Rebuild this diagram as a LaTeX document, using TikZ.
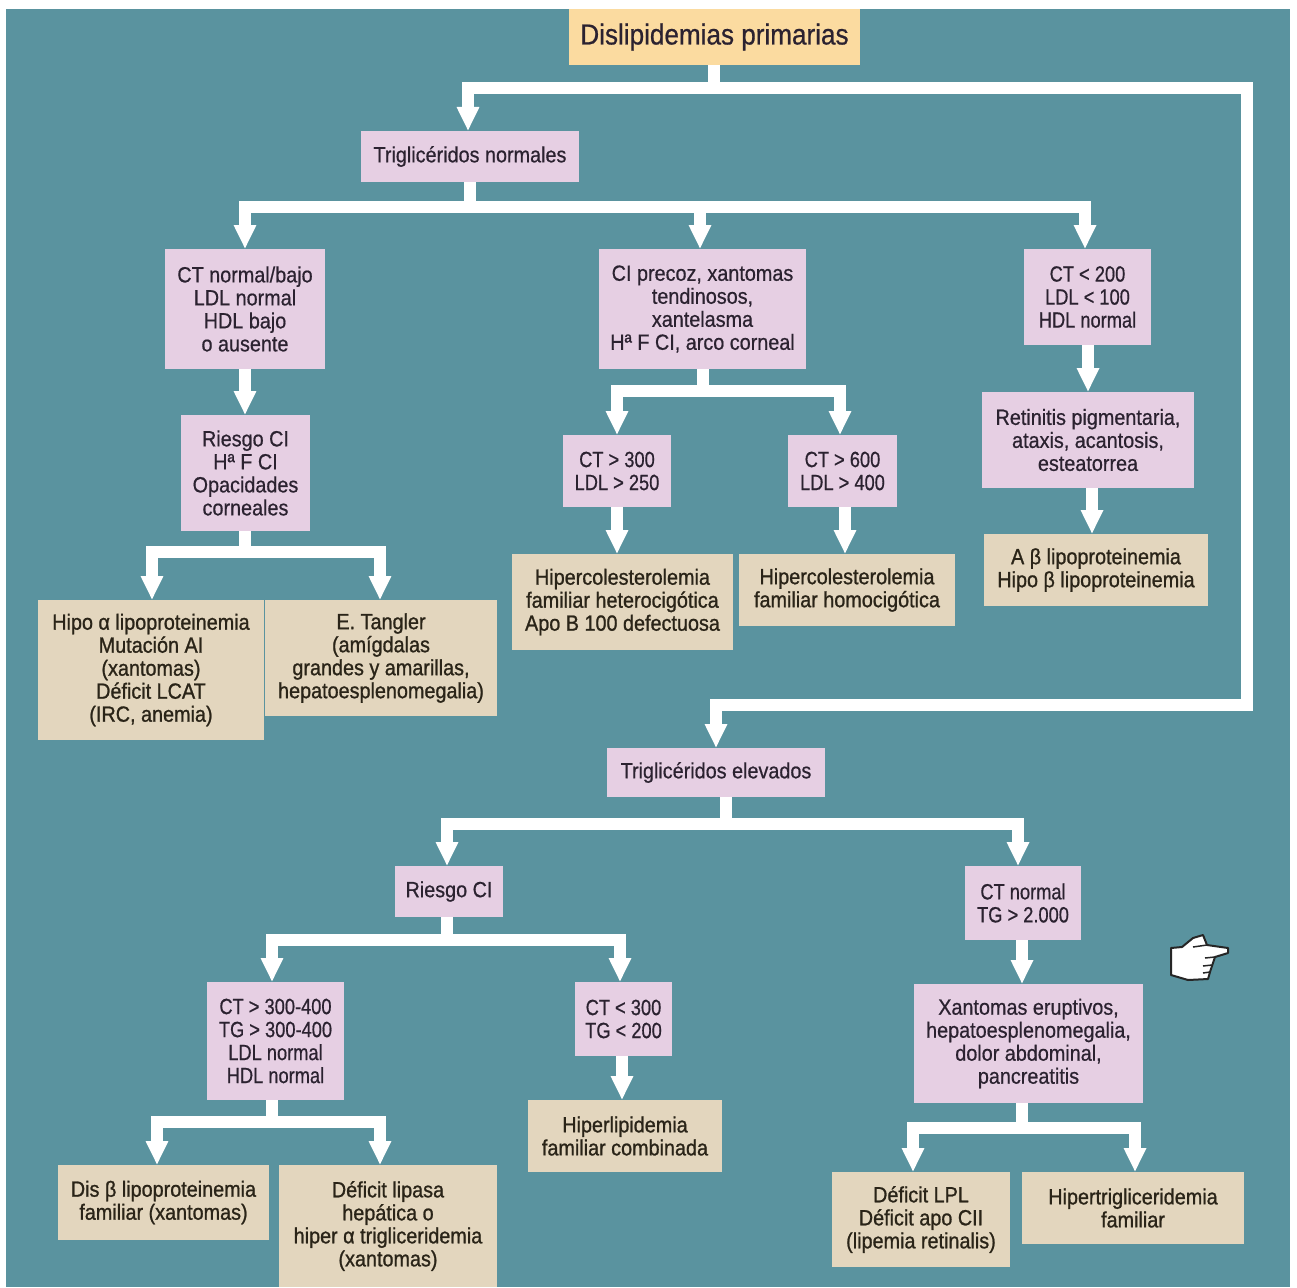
\documentclass[tikz,border=0pt]{standalone}
\usepackage{fontspec}
\setmainfont[FakeStretch=0.9,FakeBold=0.6]{Liberation Sans}
\newfontfamily\narrowfont[FakeStretch=0.83,FakeBold=0.6]{Liberation Sans}
\newfontfamily\heavyfont[FakeStretch=0.9,FakeBold=1.0]{Liberation Sans}
\usetikzlibrary{arrows.meta}
\definecolor{teal0}{HTML}{5A939F}
\definecolor{lilac0}{HTML}{E6CFE3}
\definecolor{tan0}{HTML}{E3D6BE}
\definecolor{orange0}{HTML}{FBDBA0}
\definecolor{ink0}{HTML}{2B2230}
\definecolor{ink1}{HTML}{2A2418}
\tikzset{
 x=1pt,y=-1pt,
 basebox/.style={inner sep=0pt,outer sep=0pt,align=center,text=ink0,font=\fontsize{22}{23}\selectfont},
 lilacbox/.style={basebox,fill=lilac0},
 numbox/.style={basebox,fill=lilac0,font=\narrowfont\fontsize{22}{23}\selectfont},
 tanbox/.style={basebox,fill=tan0,text=ink1,font=\heavyfont\fontsize{22}{23}\selectfont},
 flow/.style={draw=white,line width=12pt,line join=miter},
 flowa/.style={flow,-{Triangle[width=21pt,length=24pt]},shorten >=0pt},
}
\newcommand{\bx}[7]{\node[#1,minimum width=#5pt-#4pt,minimum height=#7pt-#6pt] (#2) at ({(#4+#5)/2},{(#6+#7)/2}) {#3};}
\begin{document}
\begin{tikzpicture}
\useasboundingbox (0,0) rectangle (1297,1287);
\fill[white] (0,0) rectangle (1297,1287);
\fill[teal0] (6,9) rectangle (1290,1287);
% boxes
\node[basebox,fill=orange0,minimum width=291pt,minimum height=56pt,font=\fontsize{29}{30}\selectfont] (top) at (714.5,37) {Dislipidemias primarias};
\bx{lilacbox}{tn}{Triglicéridos normales}{361}{579}{131}{182}
\bx{lilacbox}{a1}{CT normal/bajo\\LDL normal\\HDL bajo\\o ausente}{165}{325}{249}{369}
\bx{lilacbox}{a2}{CI precoz, xantomas\\tendinosos,\\xantelasma\\Hª F CI, arco corneal}{599}{806}{249}{369}
\bx{numbox}{a3}{CT < 200\\LDL < 100\\HDL normal}{1024}{1151}{249}{345}
\bx{lilacbox}{b1}{Riesgo CI\\Hª F CI\\Opacidades\\corneales}{181}{310}{415}{531}
\bx{numbox}{c1}{CT > 300\\LDL > 250}{563}{671}{435}{507}
\bx{numbox}{c2}{CT > 600\\LDL > 400}{788}{897}{435}{507}
\bx{lilacbox}{b3}{Retinitis pigmentaria,\\ataxis, acantosis,\\esteatorrea}{982}{1194}{392}{488}
\bx{tanbox}{d1}{Hipo α lipoproteinemia\\Mutación AI\\(xantomas)\\Déficit LCAT\\(IRC, anemia)}{38}{264}{600}{740}
\bx{tanbox}{d2}{E. Tangler\\(amígdalas\\grandes y amarillas,\\hepatoesplenomegalia)}{265}{497}{600}{716}
\bx{tanbox}{e1}{Hipercolesterolemia\\familiar heterocigótica\\Apo B 100 defectuosa}{512}{733}{554}{650}
\bx{tanbox}{e2}{Hipercolesterolemia\\familiar homocigótica}{739}{955}{554}{626}
\bx{tanbox}{e3}{A β lipoproteinemia\\Hipo β lipoproteinemia}{984}{1208}{534}{606}
\bx{lilacbox}{te}{Triglicéridos elevados}{607}{825}{748}{797}
\bx{lilacbox}{f1}{Riesgo CI}{395}{503}{866}{917}
\bx{numbox}{f2}{CT normal\\TG > 2.000}{965}{1081}{866}{940}
\bx{numbox}{g1}{CT > 300-400\\TG > 300-400\\LDL normal\\HDL normal}{207}{344}{982}{1100}
\bx{numbox}{g2}{CT < 300\\TG < 200}{575}{672}{982}{1056}
\bx{lilacbox}{h1}{Xantomas eruptivos,\\hepatoesplenomegalia,\\dolor abdominal,\\pancreatitis}{914}{1143}{984}{1103}
\bx{tanbox}{i1}{Dis β lipoproteinemia\\familiar (xantomas)}{58}{269}{1165}{1240}
\bx{tanbox}{i2}{Déficit lipasa\\hepática o\\hiper α trigliceridemia\\(xantomas)}{279}{497}{1165}{1287}
\bx{tanbox}{i3}{Hiperlipidemia\\familiar combinada}{528}{722}{1100}{1172}
\bx{tanbox}{i4}{Déficit LPL\\Déficit apo CII\\(lipemia retinalis)}{832}{1010}{1172}{1267}
\bx{tanbox}{i5}{Hipertrigliceridemia\\familiar}{1022}{1244}{1172}{1244}
% junction points
\coordinate (j0) at (714,88);
\coordinate (j0l) at (468,88);
\coordinate (j0r) at (1247,88);
\coordinate (j0b) at (1247,705);
\coordinate (j0e) at (716,705);
\coordinate (j1) at (470,207);
\coordinate (j1a) at (245,207);
\coordinate (j1b) at (700,207);
\coordinate (j1c) at (1085,207);
\coordinate (j2) at (245,552);
\coordinate (j2a) at (152,552);
\coordinate (j2b) at (380,552);
\coordinate (j3) at (703,391);
\coordinate (j3a) at (617,391);
\coordinate (j3b) at (840,391);
\coordinate (j4) at (726,824);
\coordinate (j4a) at (447,824);
\coordinate (j4b) at (1018,824);
\coordinate (j5) at (447,940);
\coordinate (j5a) at (272,940);
\coordinate (j5b) at (620,940);
\coordinate (j6) at (272,1122);
\coordinate (j6a) at (157,1122);
\coordinate (j6b) at (380,1122);
\coordinate (j7) at (1022,1128);
\coordinate (j7a) at (913,1128);
\coordinate (j7b) at (1135,1128);
\coordinate (k1) at (245,0);
\coordinate (k2) at (617,0);
\coordinate (k3) at (845,0);
\coordinate (k4) at (1088,0);
\coordinate (k5) at (1092,0);
\coordinate (k6) at (622,0);
\coordinate (k7) at (1022,0);
% connectors
\path[flowa] (top.south -| j0) -- (j0) -- (j0l) -- (tn.north -| j0l);
\path[flowa] (top.south -| j0) -- (j0) -- (j0r) -- (j0b) -- (j0e) -- (te.north -| j0e);
\path[flowa] (tn.south -| j1) -- (j1) -- (j1a) -- (a1.north -| j1a);
\path[flowa] (tn.south -| j1) -- (j1) -- (j1b) -- (a2.north -| j1b);
\path[flowa] (tn.south -| j1) -- (j1) -- (j1c) -- (a3.north -| j1c);
\path[flowa] (a1.south -| k1) -- (b1.north -| k1);
\path[flowa] (b1.south -| j2) -- (j2) -- (j2a) -- (d1.north -| j2a);
\path[flowa] (b1.south -| j2) -- (j2) -- (j2b) -- (d2.north -| j2b);
\path[flowa] (a2.south -| j3) -- (j3) -- (j3a) -- (c1.north -| j3a);
\path[flowa] (a2.south -| j3) -- (j3) -- (j3b) -- (c2.north -| j3b);
\path[flowa] (c1.south -| k2) -- (e1.north -| k2);
\path[flowa] (c2.south -| k3) -- (e2.north -| k3);
\path[flowa] (a3.south -| k4) -- (b3.north -| k4);
\path[flowa] (b3.south -| k5) -- (e3.north -| k5);
\path[flowa] (te.south -| j4) -- (j4) -- (j4a) -- (f1.north -| j4a);
\path[flowa] (te.south -| j4) -- (j4) -- (j4b) -- (f2.north -| j4b);
\path[flowa] (f1.south -| j5) -- (j5) -- (j5a) -- (g1.north -| j5a);
\path[flowa] (f1.south -| j5) -- (j5) -- (j5b) -- (g2.north -| j5b);
\path[flowa] (g2.south -| k6) -- (i3.north -| k6);
\path[flowa] (f2.south -| k7) -- (h1.north -| k7);
\path[flowa] (g1.south -| j6) -- (j6) -- (j6a) -- (i1.north -| j6a);
\path[flowa] (g1.south -| j6) -- (j6) -- (j6b) -- (i2.north -| j6b);
\path[flowa] (h1.south -| j7) -- (j7) -- (j7a) -- (i4.north -| j7a);
\path[flowa] (h1.south -| j7) -- (j7) -- (j7b) -- (i5.north -| j7b);
% pointing hand
\draw[fill=white,draw=black!85,line width=2pt,line join=round]
 (1171,948) -- (1171,975) -- (1188,980) -- (1208,979) -- (1210,972) -- (1215,957)
 -- (1228,953) -- (1228,948) -- (1207,945) -- (1203,935) -- (1193,938) -- (1182,947) -- cycle;
\draw[draw=black!85,line width=1.5pt] (1193,947) -- (1207,945) (1215,957) -- (1205,958) (1212,965) -- (1203,966) (1210,972) -- (1203,973);
\end{tikzpicture}
\end{document}
